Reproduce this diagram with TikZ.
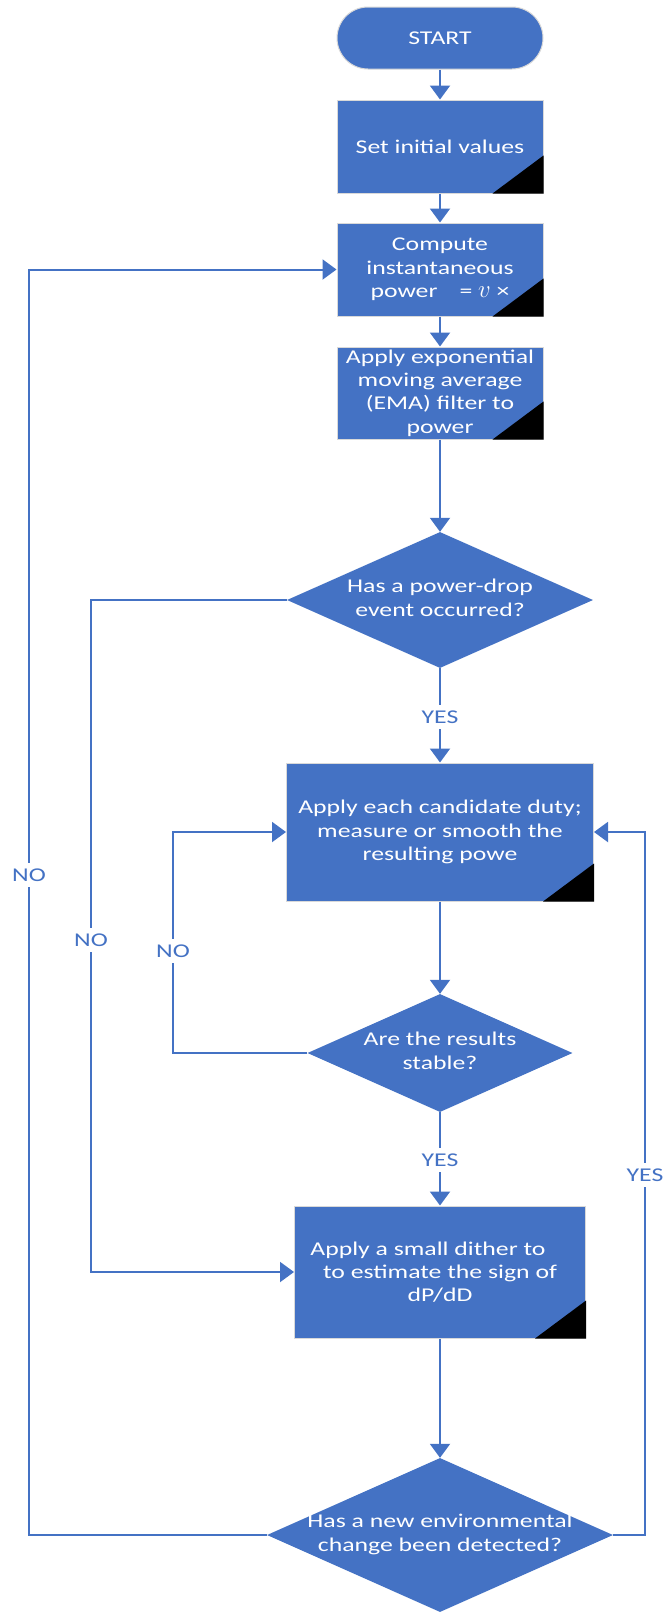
\documentclass[tikz,border=0pt]{standalone}
\usepackage{fontspec}
\setmainfont{Carlito}[FakeStretch=1.32]
\usetikzlibrary{arrows.meta,shapes.geometric,calc}
\definecolor{fcblue}{HTML}{4472C4}
\newcommand{\dtxt}[1]{\smash{\makebox[0pt]{\raisebox{-4.9pt}{\begin{tabular}{@{}c@{}}#1\end{tabular}}}}}
\begin{document}
\begin{tikzpicture}[x=1pt,y=-1pt,
  every node/.style={font=\fontsize{19.5}{23.3}\selectfont},
  procbox/.style={rectangle, fill=fcblue, draw=gray!30, line width=1pt, text=white, align=center, inner sep=0pt, minimum width=206pt, minimum height=93pt},
  termbox/.style={procbox, rounded corners=31pt, minimum height=62pt},
  decbox/.style={diamond, fill=fcblue, text=white, inner sep=0pt},
  arr/.style={draw=fcblue, line width=2pt, -{Triangle[width=20pt,length=14pt]}},
  lbl/.style={fill=white, text=fcblue, inner sep=1pt, text height=13pt, text depth=0pt, minimum height=24pt},
]
\fill[white] (0,0) rectangle (665,1612);
\useasboundingbox (0,0) rectangle (665,1612);

\node[termbox] (start) at (440,38) {START};
\node[procbox] (b1) at (440,146.5) {Set initial values};
\node[procbox] (b2) at (440,269.5) {Compute\\instantaneous\\power\hspace{22pt}= {\fontsize{25}{25}\selectfont$v$} ×};
\node[procbox, minimum height=92pt] (b3) at (440,393) {Apply exponential\\moving average\\(EMA) filter to\\power};
\node[decbox, minimum width=306pt, minimum height=136pt] (d1) at (440,600) {\dtxt{Has a power-drop\\event occurred?}};
\node[procbox, minimum width=307pt, minimum height=138pt] (b4) at (440,832) {Apply each candidate duty;\\measure or smooth the\\resulting powe};
\node[decbox, minimum width=265pt, minimum height=118pt] (d2) at (440,1053) {\dtxt{Are the results\\stable?}};
\node[procbox, minimum width=291pt, minimum height=132pt] (b5) at (440,1272) {Apply a small dither to\hspace*{24pt}\\to estimate the sign of\\dP/dD};
\node[decbox, minimum width=346pt, minimum height=154pt] (d3) at (440,1535) {\dtxt{Has a new environmental\\change been detected?}};

\foreach \b in {b1,b2,b3,b4,b5}
  \fill[black] (\b.south east) -- ++(-51,0) -- ($(\b.south east)+(0,-38)$) -- cycle;

\coordinate (xl1) at (91,0);
\coordinate (xl2) at (173,0);
\coordinate (xl3) at (29,0);
\coordinate (xr) at (645,0);

\draw[arr] (start) -- (b1);
\draw[arr] (b1) -- (b2);
\draw[arr] (b2) -- (b3);
\draw[arr] (b3) -- (d1);
\draw[arr] (d1) -- (b4);
\draw[arr] (b4) -- (d2);
\draw[arr] (d2) -- (b5);
\draw[arr] (b5) -- (d3);
\draw[arr] (d1.west) -| (xl1 |- b5.west) -- (b5.west);
\draw[arr] (d2.west) -| (xl2 |- b4.west) -- (b4.west);
\draw[arr] (d3.west) -| (xl3 |- b2.west) -- (b2.west);
\draw[arr] (d3.east) -| (xr |- b4.east) -- (b4.east);

\node[lbl] (yes1) at (440,717) {YES};
\node[lbl] (yes2) at (440,1160) {YES};
\node[lbl] (no1) at (91,940) {NO};
\node[lbl] (no2) at (173,951) {NO};
\node[lbl] (no3) at (29,875) {NO};
\node[lbl] (yes3) at (645,1175) {YES};
\end{tikzpicture}
\end{document}
